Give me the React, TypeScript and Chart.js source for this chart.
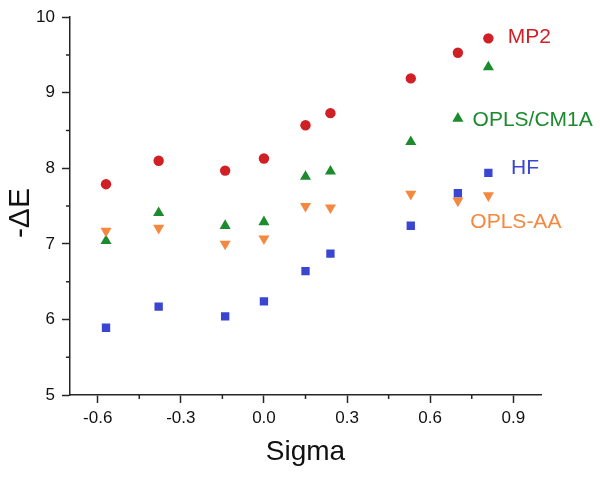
import React, { useEffect, useRef } from "react";
import { Chart, registerables } from "chart.js";

Chart.register(...registerables);

const sigma = [-0.57, -0.38, -0.14, 0.0, 0.15, 0.24, 0.53, 0.7, 0.81];
const mp2 = [7.79, 8.1, 7.97, 8.13, 8.57, 8.73, 9.19, 9.53, 9.72];
const oplsCm1a = [7.04, 7.41, 7.24, 7.29, 7.89, 7.96, 8.35, 8.66, 9.34];
const hf = [5.89, 6.17, 6.04, 6.24, 6.64, 6.87, 7.24, 7.67, 7.94];
const oplsAa = [7.17, 7.21, 7.0, 7.07, 7.5, 7.48, 7.66, 7.57, 7.64];

const xTicks = [-0.6, -0.3, 0.0, 0.3, 0.6, 0.9];
const xMinorTicks = [-0.45, -0.15, 0.15, 0.45, 0.75];
const yTicks = [5, 6, 7, 8, 9, 10];
const yMinorTicks = [5.5, 6.5, 7.5, 8.5, 9.5];

const seriesNames = ["MP2", "OPLS/CM1A", "HF", "OPLS-AA"];
const labelX = [0.88, 0.753, 0.892, 0.745];
const labelY = [9.74, 8.632, 8.008, 7.284];

const yTitle = "-ΔE";

const RED = "#d01f25";
const GREEN = "#1b8b2d";
const BLUE = "#3a46d0";
const ORANGE = "#f4883f";
const FONT = "'Liberation Sans', Arial, sans-serif";
const AXIS = "#262626";

const pts = (ys: number[]) => sigma.map((x, i) => ({ x, y: ys[i] }));

export default function App() {
  const ref = useRef<HTMLCanvasElement | null>(null);
  useEffect(() => {
    if (!ref.current) return;
    const labelColors = [RED, GREEN, BLUE, ORANGE];
    const extras = {
      id: "extras",
      afterDraw(chart: any) {
        const ctx = chart.ctx;
        const xs = chart.scales.x;
        const ys = chart.scales.y;
        const area = chart.chartArea;
        ctx.save();
        ctx.strokeStyle = AXIS;
        ctx.lineWidth = 1.5;
        ctx.beginPath();
        xMinorTicks.forEach((v) => {
          const px = xs.getPixelForValue(v);
          ctx.moveTo(px, area.bottom);
          ctx.lineTo(px, area.bottom + 4);
        });
        yMinorTicks.forEach((v) => {
          const py = ys.getPixelForValue(v);
          ctx.moveTo(area.left, py);
          ctx.lineTo(area.left - 4, py);
        });
        ctx.stroke();
        ctx.font = `21px ${FONT}`;
        ctx.textAlign = "left";
        ctx.textBaseline = "middle";
        seriesNames.forEach((t, i) => {
          ctx.fillStyle = labelColors[i];
          ctx.fillText(t, xs.getPixelForValue(labelX[i]), ys.getPixelForValue(labelY[i]));
        });
        // y-axis title
        ctx.save();
        ctx.translate(21, (area.top + area.bottom) / 2 + 7);
        ctx.rotate(-Math.PI / 2);
        ctx.textAlign = "center";
        ctx.textBaseline = "middle";
        ctx.fillStyle = "#111";
        ctx.font = `30px ${FONT}`;
        ctx.fillText(yTitle, 0, 0);
        ctx.restore();
        ctx.restore();
      },
    };
    const chart = new Chart(ref.current, {
      type: "scatter",
      data: {
        datasets: [
          {
            label: "MP2",
            data: pts(mp2),
            pointStyle: "circle",
            pointRadius: 5.2,
            backgroundColor: RED,
            borderColor: RED,
            borderWidth: 0,
          },
          {
            label: "OPLS-AA",
            data: pts(oplsAa),
            pointStyle: "triangle",
            rotation: 180,
            pointRadius: 6.4,
            backgroundColor: ORANGE,
            borderColor: ORANGE,
            borderWidth: 0,
          },
          {
            label: "OPLS/CM1A",
            data: pts(oplsCm1a),
            pointStyle: "triangle",
            pointRadius: 6.4,
            backgroundColor: GREEN,
            borderColor: GREEN,
            borderWidth: 0,
          },
          {
            label: "HF",
            data: pts(hf),
            pointStyle: "rect",
            pointRadius: 5.9,
            backgroundColor: BLUE,
            borderColor: BLUE,
            borderWidth: 0,
          },
        ],
      },
      options: {
        animation: false,
        responsive: true,
        maintainAspectRatio: false,
        layout: { padding: { left: 0, top: 16, right: 59, bottom: 0 } },
        plugins: { legend: { display: false }, tooltip: { enabled: false } },
        scales: {
          x: {
            type: "linear",
            min: -0.7,
            max: 1.0,
            afterBuildTicks: (s: any) => {
              s.ticks = xTicks.map((v) => ({ value: v }));
            },
            afterFit: (s: any) => {
              s.height = 84;
            },
            grid: {
              display: true,
              drawOnChartArea: false,
              drawTicks: true,
              tickLength: 8,
              tickWidth: 1.5,
              tickColor: AXIS,
            },
            border: { display: true, color: AXIS, width: 1.5 },
            ticks: {
              color: "#111",
              padding: 5,
              font: { family: FONT, size: 17 },
              maxRotation: 0,
              callback: (v: any) => Number(v).toFixed(1),
            },
            title: {
              display: true,
              text: "Sigma",
              color: "#111",
              font: { family: FONT, size: 28 },
              padding: { top: 0, bottom: 10 },
            },
          },
          y: {
            type: "linear",
            min: 5,
            max: 10,
            afterBuildTicks: (s: any) => {
              s.ticks = yTicks.map((v) => ({ value: v }));
            },
            afterFit: (s: any) => {
              s.width = 70;
            },
            grid: {
              display: true,
              drawOnChartArea: false,
              drawTicks: true,
              tickLength: 8,
              tickWidth: 1.5,
              tickColor: AXIS,
            },
            border: { display: true, color: AXIS, width: 1.5 },
            ticks: {
              color: "#111",
              padding: 7,
              font: { family: FONT, size: 17 },
              callback: (v: any) => String(v),
            },
            title: { display: false },
          },
        },
      },
      plugins: [extras],
    });
    return () => chart.destroy();
  }, []);
  return (
    <div style={{ position: "absolute", left: 0, top: 0, width: 600, height: 479, background: "#fff" }}>
      <canvas ref={ref} />
    </div>
  );
}
